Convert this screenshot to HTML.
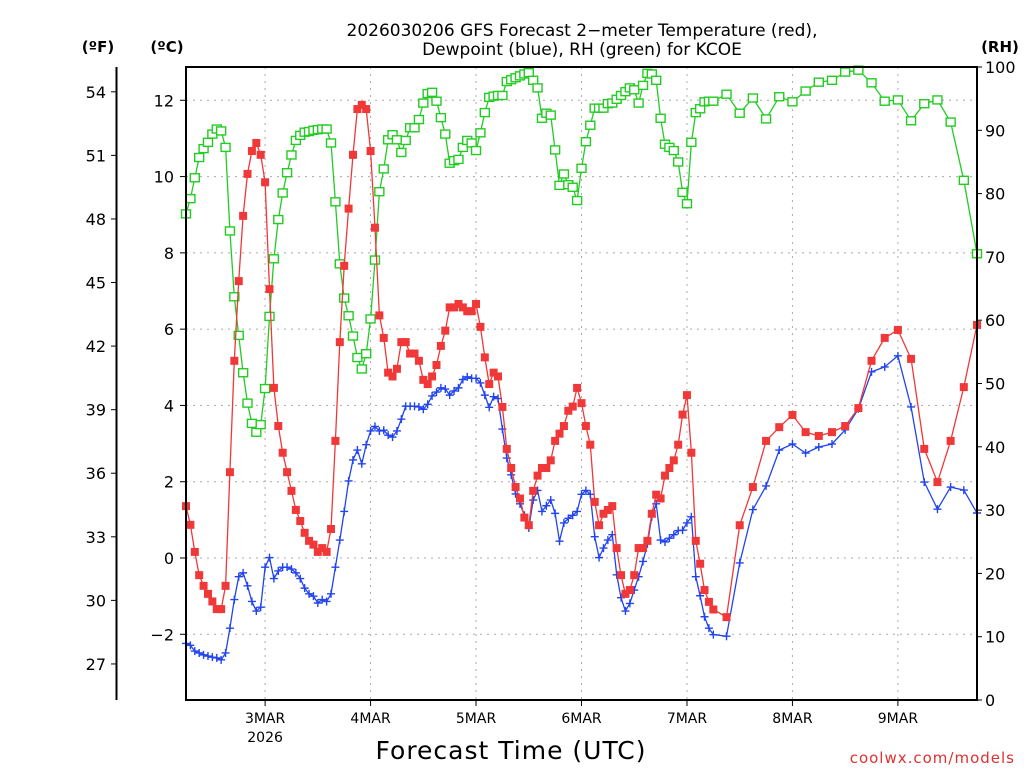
<!DOCTYPE html>
<html><head><meta charset="utf-8"><style>
body{margin:0;background:#fff;width:1024px;height:768px;overflow:hidden}
svg{display:block;font-family:"DejaVu Sans","Liberation Sans",sans-serif}
</style></head><body>
<svg id="chart" width="1024" height="768" viewBox="0 0 1024 768" xmlns="http://www.w3.org/2000/svg">
<text x="582" y="36" text-anchor="middle" font-size="17">2026030206 GFS Forecast 2−meter Temperature (red),</text>
<text x="582" y="55" text-anchor="middle" font-size="17">Dewpoint (blue), RH (green) for KCOE</text>
<text x="98" y="52" text-anchor="middle" font-size="15" font-weight="bold">(ºF)</text>
<text x="167" y="52" text-anchor="middle" font-size="15" font-weight="bold">(ºC)</text>
<text x="1000" y="52" text-anchor="middle" font-size="15" font-weight="bold">(RH)</text>
<text x="511" y="759" text-anchor="middle" font-size="25" letter-spacing="1">Forecast Time (UTC)</text>
<text x="1015" y="763" text-anchor="end" font-size="15" fill="#e03030" letter-spacing="1">coolwx.com/models</text>
<g id="grid"></g><g id="axes"></g><g id="series"></g>
<rect x="186" y="67" width="791" height="633" fill="none" stroke="#000" stroke-width="2"/>
</svg>
<script>
const hours=[];for(let h=0;h<=120;h++)hours.push(h);for(let h=123;h<=180;h+=3)hours.push(h);
const tempC=[1.36,0.87,0.16,-0.45,-0.73,-0.94,-1.14,-1.34,-1.34,-0.73,2.25,5.17,7.26,8.97,10.07,10.67,10.88,10.57,9.85,7.05,4.46,3.46,2.76,2.25,1.76,1.26,0.97,0.66,0.45,0.35,0.16,0.26,0.16,0.76,3.07,5.66,7.66,9.16,10.57,11.77,11.88,11.77,10.67,8.66,6.36,5.77,4.86,4.76,4.96,5.66,5.66,5.36,5.36,5.17,4.67,4.56,4.76,5.06,5.56,5.96,6.57,6.57,6.66,6.57,6.47,6.47,6.66,6.06,5.26,4.56,4.86,4.76,3.96,2.86,2.36,1.86,1.56,1.06,0.86,1.76,2.16,2.36,2.36,2.56,3.07,3.26,3.46,3.86,3.97,4.46,4.06,3.46,2.97,1.47,0.86,1.16,1.26,1.36,0.26,-0.45,-0.94,-0.84,-0.45,0.26,0.26,0.45,1.16,1.66,1.56,2.16,2.36,2.56,2.97,3.76,4.27,2.76,0.45,-0.15,-0.84,-1.15,-1.35,-1.55,0.86,1.86,3.07,3.43,3.75,3.30,3.20,3.30,3.46,3.93,5.17,5.77,5.98,5.22,2.86,1.99,3.07,4.48,6.11];
const dewC=[-2.24,-2.29,-2.44,-2.49,-2.54,-2.57,-2.6,-2.62,-2.67,-2.49,-1.84,-1.09,-0.49,-0.39,-0.73,-1.14,-1.39,-1.29,-0.24,0.01,-0.54,-0.34,-0.24,-0.24,-0.29,-0.39,-0.54,-0.79,-0.94,-1.0,-1.18,-1.09,-1.14,-0.94,-0.24,0.47,1.22,2.02,2.57,2.83,2.47,2.97,3.33,3.45,3.33,3.35,3.22,3.17,3.33,3.64,3.98,3.98,3.98,3.96,3.9,4.03,4.25,4.35,4.46,4.43,4.27,4.38,4.46,4.68,4.75,4.71,4.71,4.59,4.27,3.95,4.23,4.18,3.38,2.62,2.18,1.68,1.42,1.12,0.79,1.52,1.77,1.22,1.37,1.52,1.17,0.44,0.92,1.04,1.12,1.22,1.67,1.77,1.67,0.56,0.01,0.26,0.47,0.61,-0.44,-1.04,-1.39,-1.19,-0.84,-0.49,-0.09,0.37,1.08,1.42,0.47,0.42,0.52,0.61,0.72,0.73,0.92,1.08,-0.49,-0.99,-1.54,-1.84,-2.01,-2.05,-0.13,1.27,1.89,2.83,2.99,2.75,2.91,2.99,3.36,3.91,4.88,5.01,5.3,3.96,1.99,1.28,1.86,1.78,1.18];
const rh=[76.8,79.2,82.5,85.7,87.1,88.1,89.4,90.2,89.9,87.3,74.1,63.7,57.6,51.7,46.9,43.7,42.3,43.5,49.2,60.6,69.7,75.9,80.1,83.3,86.1,88.4,89.2,89.7,89.8,90.0,90.1,90.2,90.2,88.0,78.7,68.9,63.5,60.7,57.5,54.1,52.3,54.7,60.2,69.5,80.3,83.9,88.5,89.3,88.5,86.5,88.4,90.4,90.4,91.7,94.3,95.8,96.0,94.6,92.0,89.4,84.8,85.2,85.4,87.3,88.4,88.0,86.8,89.6,92.8,95.2,95.4,95.5,95.5,97.7,98.0,98.3,98.6,98.9,99.1,97.9,96.7,91.9,92.7,92.4,86.9,81.3,83.1,81.4,81.0,78.9,84.0,88.2,90.8,93.5,93.5,93.5,94.2,94.3,94.9,95.5,96.1,96.7,96.4,94.3,97.1,99.0,98.9,97.9,91.9,87.8,87.3,86.8,85.0,80.2,78.4,88.1,92.8,93.4,94.5,94.6,94.6,95.7,92.7,95.1,91.8,95.3,94.5,96.2,97.6,97.9,99.2,99.5,97.5,94.6,94.8,91.5,94.2,94.8,91.3,82.1,70.5];
const cTicks=[-2,0,2,4,6,8,10,12];
const fTicks=[27,30,33,36,39,42,45,48,51,54];
const rhTicks=[0,10,20,30,40,50,60,70,80,90,100];
const dayLabels=["3MAR","4MAR","5MAR","6MAR","7MAR","8MAR","9MAR"];
const dayHours=[18,42,66,90,114,138,162];

const NS="http://www.w3.org/2000/svg";
const X0=186,X1=977,Y0=67,Y1=700;
const xs=h=>X0+h*(X1-X0)/180;
const yc=c=>558-c*38.143;
const yf=f=>yc((f-32)*5/9);
const yr=r=>Y1-r*(Y1-Y0)/100;
function mk(parent,tag,attrs){const e=document.createElementNS(NS,tag);for(const k in attrs)e.setAttribute(k,attrs[k]);parent.appendChild(e);return e;}
const grid=document.getElementById('grid'),axes=document.getElementById('axes'),ser=document.getElementById('series');

cTicks.forEach(c=>{
  const y=yc(c);
  const g=mk(grid,'line',{x1:X0,x2:X1,y1:y,y2:y,stroke:'#aaa','stroke-dasharray':'2,5'});
  
  
  const t=mk(axes,'line',{x1:X0-6,x2:X0,y1:y,y2:y,stroke:'#000'});
  
  
  const l=mk(axes,'text',{x:174,y:y+6,'text-anchor':'end','font-size':'16'});
  l.textContent=(c<0?'−':'')+Math.abs(c);
  
  
});
const fl=mk(axes,'line',{x1:116.5,x2:116.5,y1:Y0,y2:Y1,stroke:'#000','stroke-width':2});


fTicks.forEach(f=>{
  const y=yf(f);
  const t=mk(axes,'line',{x1:111,x2:116,y1:y,y2:y,stroke:'#000'});
  
  
  const l=mk(axes,'text',{x:106,y:y+6,'text-anchor':'end','font-size':'16'});
  l.textContent=f;
  
  
});
rhTicks.forEach(r=>{
  const y=yr(r);
  const t=mk(axes,'line',{x1:X1,x2:X1+5,y1:y,y2:y,stroke:'#000'});
  
  
  const l=mk(axes,'text',{x:985,y:y+6,'font-size':'16'});
  l.textContent=r;
  
  
});
dayHours.forEach((h,i)=>{
  const x=xs(h);
  const g=mk(grid,'line',{x1:x,x2:x,y1:Y0,y2:Y1,stroke:'#aaa','stroke-dasharray':'2,5'});
  
  
  const t=mk(axes,'line',{x1:x,x2:x,y1:Y1,y2:Y1+6,stroke:'#000'});
  
  
  const l=mk(axes,'text',{x:x,y:723,'text-anchor':'middle','font-size':'14'});
  l.textContent=dayLabels[i];
  
  
});
const yl=mk(axes,'text',{x:xs(18),y:742,'text-anchor':'middle','font-size':'14'});
yl.textContent='2026';



function series(vals,yfn,color,name,marker){
  const g=mk(ser,'g',{});
  
  
  const pts=vals.map((v,i)=>xs(hours[i]).toFixed(1)+','+yfn(v).toFixed(1)).join(' ');
  const pl=mk(g,'polyline',{points:pts,fill:'none',stroke:color,'stroke-width':1.3});
  
  
  vals.forEach((v,i)=>{
    const x=xs(hours[i]),y=yfn(v);let m;
    if(marker==='fill')m=mk(g,'rect',{x:x-4,y:y-4,width:8,height:8,fill:color});
    else if(marker==='hollow')m=mk(g,'rect',{x:x-4.5,y:y-4,width:9,height:8,fill:'#fff',stroke:color,'stroke-width':1.4});
    else m=mk(g,'path',{d:`M${x-4} ${y}H${x+4}M${x} ${y-4}V${y+4}`,stroke:color,'stroke-width':1.4});
    
    
  });
}
series(rh,yr,'#22cc22','rh','hollow');
series(dewC,yc,'#2244ee','dewpoint','plus');
series(tempC,yc,'#f03838','temperature','fill');
</script>
</body></html>
